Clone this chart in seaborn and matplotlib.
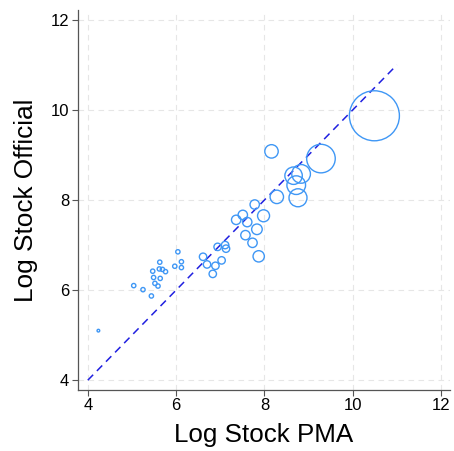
import matplotlib
matplotlib.use("Agg")
import matplotlib.pyplot as plt
import seaborn as sns
import pandas as pd
import numpy as np

log_stock_pma = [4.24, 5.04, 5.25, 5.44, 5.47, 5.49, 5.52, 5.59, 5.63, 5.62, 5.64, 5.69, 5.76,
                 5.97, 6.04, 6.12, 6.12, 6.61, 6.70, 6.83, 6.89, 6.94, 7.03, 7.11, 7.13,
                 7.36, 7.51, 7.61, 7.57, 7.73, 7.78, 7.83, 7.98, 7.87, 8.16, 8.28,
                 8.66, 8.83, 8.72, 8.76, 9.28, 10.49]
log_stock_official = [5.10, 6.10, 6.01, 5.87, 6.42, 6.28, 6.15, 6.09, 6.62, 6.47, 6.26, 6.46, 6.41,
                      6.53, 6.85, 6.63, 6.50, 6.74, 6.57, 6.36, 6.54, 6.96, 6.66, 7.00, 6.92,
                      7.56, 7.67, 7.51, 7.22, 7.05, 7.90, 7.35, 7.65, 6.75, 9.08, 8.07,
                      8.54, 8.58, 8.33, 8.05, 8.92, 9.87]
weight = [1.8, 4.6, 4.6, 4.6, 4.6, 4.6, 4.6, 4.6, 4.6, 4.6, 4.6, 4.6, 4.6,
          4.6, 4.6, 4.6, 4.6, 13.7, 13.7, 13.7, 13.7, 13.7, 13.7, 13.7, 13.7,
          22, 22, 22, 22, 22, 22, 28, 36, 32, 45, 45,
          76, 87, 87, 81, 204, 625]

df = pd.DataFrame({"pma": log_stock_pma, "official": log_stock_official, "w": weight})

sns.set_style("white")
plt.rcParams["font.family"] = ["Liberation Sans", "DejaVu Sans"]

fig = plt.figure(figsize=(4.54, 4.51), dpi=100)
ax = fig.add_axes([0.171, 0.135, 0.82, 0.843])

smax = (50 * 0.72) ** 2
sns.scatterplot(data=df, x="pma", y="official", size="w", sizes=(0, smax),
                size_norm=(0, max(weight)), facecolor="none", edgecolor="#3F97F5",
                linewidth=1.0, legend=False, ax=ax, zorder=3)

sns.lineplot(x=[4, 11], y=[4, 11], color="#2020E0", linestyle=(0, (5, 3.5)),
             linewidth=1.1, ax=ax, zorder=2)

ax.set_xlim(3.77, 12.2)
ax.set_ylim(3.78, 12.22)
ax.set_xticks([4, 6, 8, 10, 12])
ax.set_yticks([4, 6, 8, 10, 12])
ax.grid(True, color="#E6E6E6", linestyle=(0, (5, 4)), linewidth=0.8, zorder=0)
ax.set_axisbelow(True)
for side in ["top", "right"]:
    ax.spines[side].set_visible(False)
for side in ["left", "bottom"]:
    ax.spines[side].set_color("#555555")
    ax.spines[side].set_linewidth(0.9)
ax.tick_params(axis="both", which="both", direction="out", length=4, width=0.8,
               color="#555555", labelcolor="black", labelsize=12, pad=2,
               left=True, bottom=True)
ax.set_xlabel("Log Stock PMA", fontsize=18.7, labelpad=7, color="black")
ax.set_ylabel("Log Stock Official", fontsize=18.9, labelpad=9, color="black")

fig.savefig("out.png", dpi=100)
